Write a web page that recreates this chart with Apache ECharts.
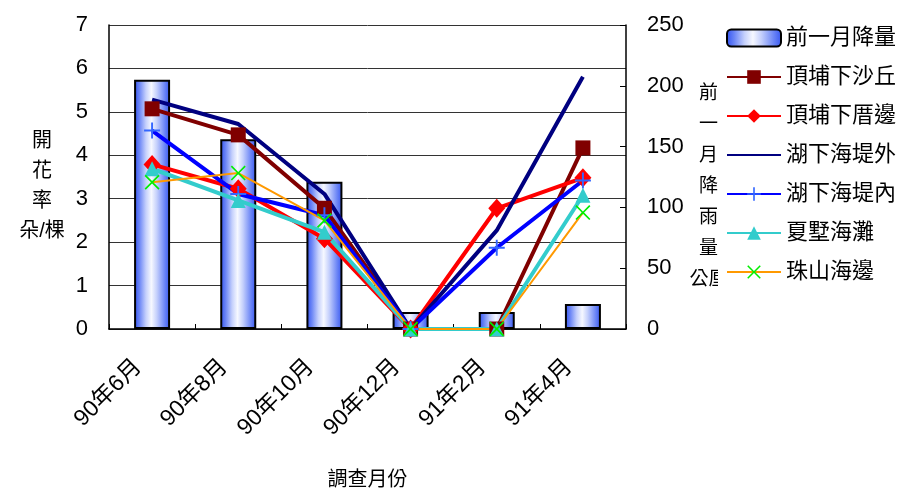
<!DOCTYPE html>
<html>
<head>
<meta charset="utf-8">
<script src="https://cdn.jsdelivr.net/npm/echarts@6/dist/echarts.min.js"></script>
<style>
  html, body { margin: 0; padding: 0; background: #fff; }
  #chart { width: 910px; height: 493px; }
</style>
</head>
<body>
<div id="chart"></div>
<script>
// Survey months
var months = ['90年6月', '90年8月', '90年10月', '90年12月', '91年2月', '91年4月'];

// Previous-month rainfall (mm), right axis
var rainfall = [205, 156, 121, 14, 14, 20.5];

// Flowering rate (flowers per plant) at each site, left axis
var dingpuDune   = [5.07, 4.47, 2.78, 0, 0, 4.17];
var dingpuHouse  = [3.79, 3.23, 2.08, 0, 2.78, 3.48];
var huxiaOuter   = [5.28, 4.72, 3.11, 0, 2.27, 5.81];
var huxiaInner   = [4.57, 3.11, 2.62, 0, 1.87, 3.42];
var xiashuBeach  = [3.69, 2.96, 2.23, 0, 0, 3.08];
var zhushanShore = [3.38, 3.59, 2.50, 0, 0, 2.68];

var leftTicks = { min: 0, max: 7, interval: 1 };
var rightTicks = { min: 0, max: 250, interval: 50 };

var FONT = '"Liberation Sans", Arial, "Noto Sans CJK TC", sans-serif';
var PLUS = 'path://M44,0 L56,0 L56,44 L100,44 L100,56 L56,56 L56,100 L44,100 L44,56 L0,56 L0,44 L44,44 Z';
var CROSS = 'path://M0,8 L8,0 L50,42 L92,0 L100,8 L58,50 L100,92 L92,100 L50,58 L8,100 L0,92 L42,50 Z';

var barFill = {
  type: 'linear', x: 0, y: 0, x2: 1, y2: 0,
  colorStops: [
    { offset: 0, color: '#2f4ff0' },
    { offset: 0.15, color: '#6c86f6' },
    { offset: 0.33, color: '#c5d0fc' },
    { offset: 0.48, color: '#f6f8ff' },
    { offset: 0.63, color: '#c5d0fc' },
    { offset: 0.85, color: '#6c86f6' },
    { offset: 1, color: '#3454f0' }
  ]
};

function lineSeries(name, data, color, width, symbol, size, symColor) {
  return {
    name: name,
    type: 'line',
    yAxisIndex: 0,
    data: data,
    clip: false,
    symbol: symbol,
    symbolSize: size,
    showSymbol: symbol !== 'none',
    lineStyle: { color: color, width: width },
    itemStyle: { color: symColor || color, borderWidth: 0 },
    emphasis: { disabled: true }
  };
}

var chart = echarts.init(document.getElementById('chart'), null, { renderer: 'canvas' });
chart.setOption({
  animation: false,
  backgroundColor: '#fff',
  textStyle: { fontFamily: FONT, color: '#000' },
  grid: { left: 109, right: 284, top: 25, bottom: 164, containLabel: false, outerBoundsMode: 'none' },
  legend: {
    orient: 'vertical',
    left: 718,
    top: 23,
    padding: [4, 6, 8, 8],
    backgroundColor: '#fff',
    itemWidth: 54,
    itemHeight: 17,
    itemGap: 17,
    textStyle: { fontSize: 22, color: '#000', fontFamily: FONT },
    data: [
      '前一月降量', '頂埔下沙丘', '頂埔下厝邊',
      { name: '湖下海堤外', itemStyle: { opacity: 0 } },
      '湖下海堤內', '夏墅海灘', '珠山海邊'
    ]
  },
  xAxis: {
    type: 'category',
    data: months,
    boundaryGap: true,
    name: '調查月份',
    nameLocation: 'middle',
    nameGap: 141,
    nameTextStyle: { fontSize: 20, color: '#000', fontFamily: FONT },
    axisLine: { lineStyle: { color: '#000', width: 1.5 } },
    axisTick: { show: true, inside: true, length: 5, lineStyle: { color: '#000' } },
    axisLabel: { rotate: 45, margin: 20, fontSize: 23, color: '#000', padding: [0, 20, 0, 0] },
    splitLine: { show: false }
  },
  yAxis: [
    {
      type: 'value',
      min: leftTicks.min, max: leftTicks.max, interval: leftTicks.interval,
      name: '{g| }\n開\n花\n率\n朵/棵',
      nameLocation: 'middle',
      nameRotate: 0,
      nameGap: 67,
      nameTextStyle: {
        fontSize: 20, lineHeight: 30, align: 'center', color: '#000',
        rich: { g: { fontSize: 10, lineHeight: 18, height: 18 } }
      },
      axisLine: { show: true, lineStyle: { color: '#000', width: 1.5 } },
      axisTick: { show: false },
      axisLabel: { fontSize: 22, margin: 21, color: '#000' },
      splitLine: { show: true, lineStyle: { color: '#333', width: 1 } }
    },
    {
      type: 'value',
      position: 'right',
      min: rightTicks.min, max: rightTicks.max, interval: rightTicks.interval,
      name: '{g| }\n前\n一\n月\n降\n雨\n量\n公厘',
      nameLocation: 'middle',
      nameRotate: 0,
      nameGap: 82,
      nameTextStyle: {
        fontSize: 19, lineHeight: 31, align: 'center', color: '#000',
        rich: { g: { fontSize: 10, lineHeight: 20, height: 20 } }
      },
      axisLine: { show: true, lineStyle: { color: '#000', width: 1.5 } },
      axisTick: { show: true, inside: true, length: 6, lineStyle: { color: '#000' } },
      axisLabel: { fontSize: 22, margin: 21, color: '#000' },
      splitLine: { show: false }
    }
  ],
  series: [
    {
      name: '前一月降量',
      type: 'bar',
      yAxisIndex: 1,
      data: rainfall,
      barWidth: 36,
      itemStyle: { color: barFill, borderColor: '#000', borderWidth: 2 },
      emphasis: { disabled: true }
    },
    lineSeries('頂埔下沙丘', dingpuDune, '#800000', 4, 'rect', 15),
    lineSeries('頂埔下厝邊', dingpuHouse, '#ff0000', 4, 'diamond', [17, 19]),
    lineSeries('湖下海堤外', huxiaOuter, '#000080', 4, 'none', 0),
    lineSeries('湖下海堤內', huxiaInner, '#0000ff', 4, PLUS, 16, '#3366ff'),
    lineSeries('夏墅海灘', xiashuBeach, '#33cccc', 4, 'triangle', 15),
    lineSeries('珠山海邊', zhushanShore, '#ff9900', 2, CROSS, 15, '#00ee00')
  ]
});
</script>
</body>
</html>
